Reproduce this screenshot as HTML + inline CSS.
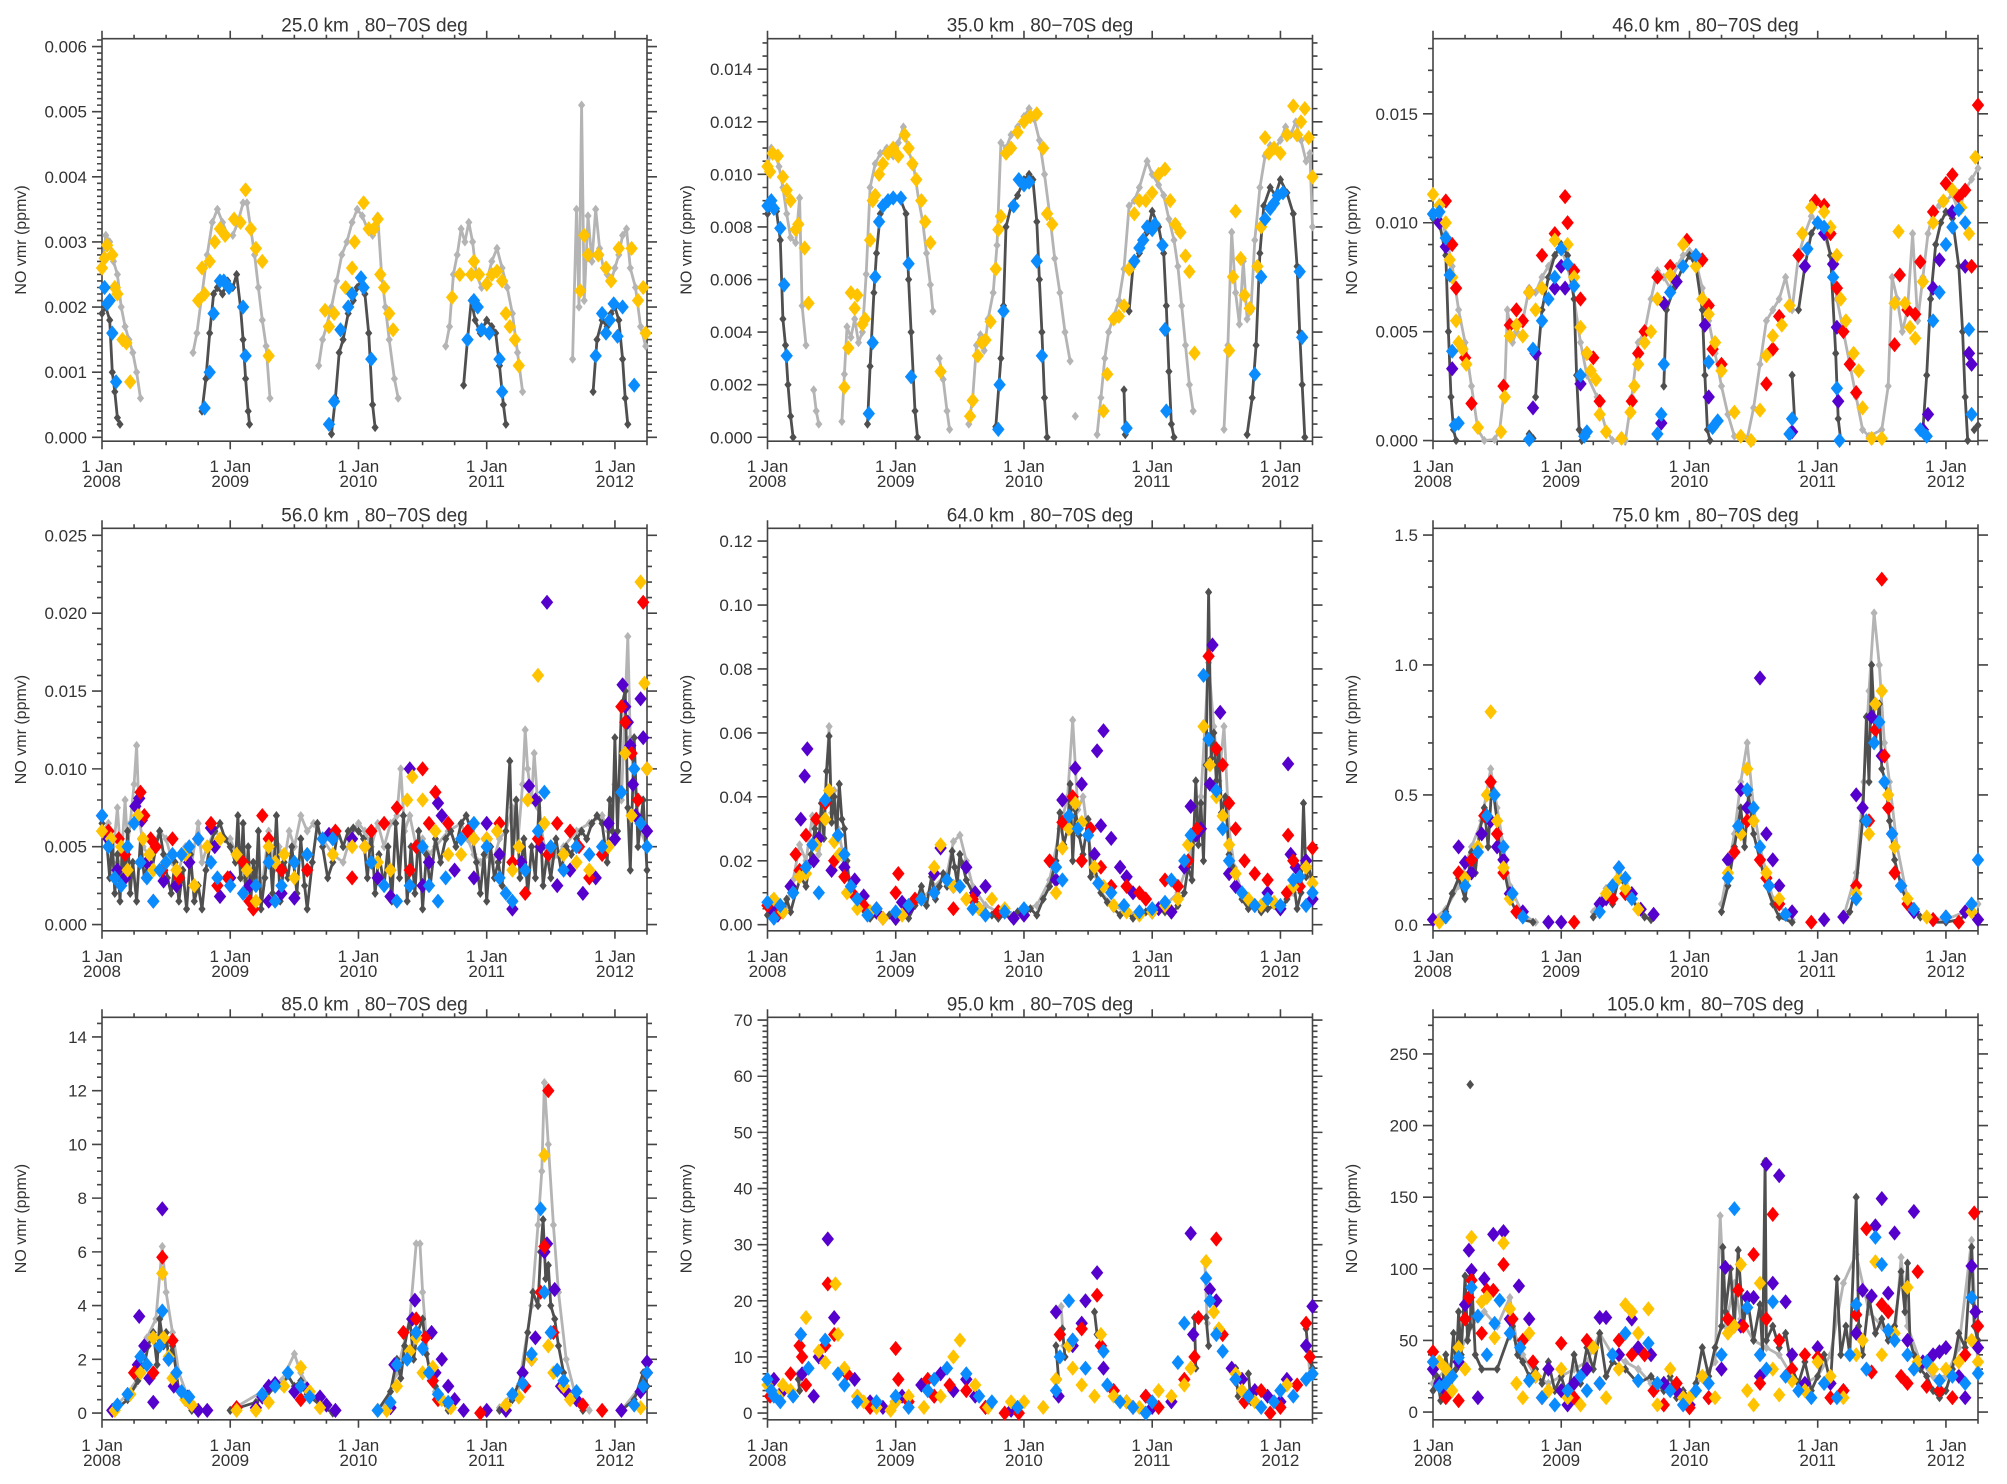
<!DOCTYPE html>
<html><head><meta charset="utf-8"><title>NO vmr 80-70S</title>
<style>
html,body{margin:0;padding:0;background:#fff;}
svg{display:block;font-family:"Liberation Sans",sans-serif;}
</style></head>
<body>
<svg id="fig" width="2007" height="1484" viewBox="0 0 2007 1484" xmlns="http://www.w3.org/2000/svg">
<rect width="2007" height="1484" fill="#fff"/>
</svg>
<script>
// ---- year tick labels ----
const yearLabels = ["2008","2009","2010","2011","2012"];

// ---- 25 km (units 0.001 ppmv) ----
const p25Light=[[0,2.6],[0.03,3.1],[0.06,3.0],[0.09,2.7],[0.12,2.5],[0.15,2.0],[0.18,1.7],[0.21,1.5],[0.24,1.3],[0.27,1.0],[0.3,0.6],null,
[0.71,1.3],[0.74,1.6],[0.78,2.2],[0.82,2.8],[0.86,3.3],[0.9,3.5],[0.94,3.3],[0.98,3.1],[1.02,3.1],[1.06,3.3],[1.1,3.6],[1.13,3.6],[1.16,3.2],[1.19,2.8],[1.22,2.3],[1.25,1.8],[1.28,1.4],[1.31,0.6],null,
[1.69,1.1],[1.72,1.5],[1.75,1.7],[1.79,2.0],[1.83,2.4],[1.87,2.8],[1.91,3.0],[1.95,3.3],[1.99,3.5],[2.03,3.4],[2.07,3.2],[2.11,3.1],[2.15,3.4],[2.18,2.5],[2.21,2.0],[2.24,1.5],[2.28,0.9],[2.31,0.6],null,
[2.68,1.4],[2.71,1.7],[2.74,2.5],[2.77,2.8],[2.8,3.2],[2.83,3.0],[2.86,3.3],[2.89,3.0],[2.92,2.5],[2.96,2.3],[3.0,2.4],[3.04,2.7],[3.08,2.9],[3.12,2.6],[3.16,2.3],[3.2,1.9],[3.24,1.3],[3.28,0.7],null,
[3.67,1.2],[3.7,3.5],[3.72,2.0],[3.74,5.1],[3.76,2.1],[3.79,3.4],[3.82,2.7],[3.85,3.5],[3.88,2.9],[3.91,2.6],[3.94,2.5],[3.97,2.4],[4.0,2.6],[4.03,2.8],[4.06,3.1],[4.09,3.2],[4.12,2.6],[4.16,2.3],[4.2,1.7],[4.24,1.4]];
const p25Dark=[[0,1.9],[0.03,2.0],[0.06,1.8],[0.08,1.0],[0.1,0.7],[0.12,0.3],[0.14,0.2],null,
[0.78,0.4],[0.81,0.9],[0.84,1.6],[0.87,2.2],[0.9,2.3],[0.94,2.2],[0.98,2.4],[1.02,2.3],[1.05,2.5],[1.08,2.0],[1.1,1.5],[1.12,0.9],[1.14,0.4],[1.15,0.2],null,
[1.79,0.05],[1.82,0.6],[1.85,1.3],[1.88,1.5],[1.92,1.9],[1.96,2.1],[1.99,2.3],[2.02,2.4],[2.05,2.2],[2.08,1.6],[2.11,0.5],[2.13,0.15],null,
[2.82,0.8],[2.85,1.5],[2.88,2.1],[2.91,1.8],[2.95,1.6],[3.0,1.8],[3.04,1.7],[3.07,1.6],[3.1,1.1],[3.13,0.5],[3.15,0.2],null,
[3.83,0.7],[3.86,1.5],[3.9,1.8],[3.94,1.7],[3.97,1.9],[4.0,2.0],[4.03,1.8],[4.06,1.2],[4.08,0.6],[4.1,0.2]];
const p25Yellow=[[0,2.6],[0.02,2.75],[0.04,2.95],[0.08,2.8],[0.1,2.3],[0.12,2.2],[0.16,1.5],[0.19,1.45],[0.22,0.85],
[0.75,2.1],[0.78,2.6],[0.8,2.2],[0.84,2.7],[0.88,3.0],[0.92,3.2],[0.96,3.1],[1.03,3.35],[1.08,3.3],[1.12,3.8],[1.16,3.2],[1.2,2.9],[1.25,2.7],[1.3,1.25],
[1.74,1.95],[1.77,1.7],[1.81,1.9],[1.9,2.3],[1.95,2.6],[1.97,3.0],[2.04,3.6],[2.08,3.2],[2.12,3.2],[2.15,3.35],[2.17,2.5],[2.2,2.3],[2.24,1.9],[2.27,1.65],
[2.73,2.15],[2.79,2.5],[2.88,2.5],[2.9,2.7],[2.94,2.5],[3.0,2.35],[3.04,2.5],[3.08,2.55],[3.12,2.4],[3.15,1.9],[3.18,1.7],[3.22,1.5],[3.25,1.1],
[3.73,2.25],[3.76,3.1],[3.79,2.8],[3.87,2.8],[3.93,2.6],[3.97,2.4],[4.03,2.9],[4.13,2.9],[4.18,2.1],[4.22,2.3],[4.24,1.6]];
const p25Blue=[[0.02,2.3],[0.04,2.05],[0.06,2.1],[0.08,1.6],[0.11,0.85],[0.8,0.45],[0.84,1.0],[0.87,1.9],[0.92,2.4],[0.95,2.4],[0.99,2.3],[1.1,2.0],[1.12,1.25],
[1.77,0.2],[1.81,0.55],[1.86,1.65],[1.92,2.0],[1.95,2.2],[2.02,2.45],[2.04,2.3],[2.1,1.2],[2.85,1.5],[2.9,2.1],[2.93,2.0],[2.96,1.65],[3.02,1.6],[3.1,1.2],[3.12,0.7],
[3.85,1.25],[3.9,1.9],[3.93,1.6],[3.96,1.8],[3.99,2.05],[4.02,1.55],[4.06,2.0],[4.15,0.8]];

// ---- 35 km (units 0.001 ppmv) ----
const p35Light=[[0,10.3],[0.03,11.0],[0.06,10.8],[0.09,10.3],[0.12,9.5],[0.15,8.5],[0.18,7.6],[0.22,7.4],[0.25,9.1],[0.27,5.0],[0.3,3.5],null,[0.36,1.8],[0.38,1.0],[0.4,0.5],null,
[0.58,0.6],[0.6,2.4],[0.62,4.2],[0.65,3.8],[0.68,4.5],[0.71,3.6],[0.74,4.0],[0.77,6.2],[0.8,9.5],[0.84,10.4],[0.88,10.8],[0.93,11.0],[0.98,10.7],[1.02,11.2],[1.06,11.8],[1.1,10.9],[1.14,10.3],[1.18,9.0],[1.21,8.2],[1.24,7.0],[1.27,5.8],[1.29,4.8],null,[1.34,3.0],[1.37,2.2],[1.4,1.0],[1.42,0.3],null,
[1.57,0.5],[1.6,1.5],[1.63,3.5],[1.66,3.9],[1.69,3.3],[1.72,4.5],[1.76,5.5],[1.79,7.3],[1.82,11.2],[1.86,11.0],[1.9,11.5],[1.95,11.8],[2.0,12.2],[2.04,12.5],[2.08,12.1],[2.12,11.3],[2.16,10.0],[2.2,8.5],[2.24,6.8],[2.28,5.5],[2.32,4.0],[2.36,2.9],null,[2.4,0.8],null,
[2.57,0.1],[2.6,1.5],[2.63,3.0],[2.66,4.0],[2.7,4.6],[2.74,5.2],[2.78,6.4],[2.82,8.8],[2.86,9.0],[2.9,9.5],[2.96,10.5],[3.0,10.0],[3.05,9.6],[3.09,9.2],[3.13,8.3],[3.17,7.5],[3.2,6.5],[3.23,5.0],[3.26,3.5],[3.29,2.0],[3.32,1.0],null,
[3.56,0.3],[3.59,3.5],[3.62,7.8],[3.65,5.5],[3.68,4.3],[3.71,6.7],[3.74,4.5],[3.77,4.8],[3.8,7.5],[3.84,9.5],[3.88,10.7],[3.92,11.1],[3.96,11.0],[4.0,11.3],[4.04,11.8],[4.08,11.5],[4.12,12.0],[4.16,11.3],[4.2,10.5],[4.23,10.8],[4.25,8.0]];
const p35Dark=[[0,8.5],[0.03,8.8],[0.07,8.6],[0.1,7.5],[0.12,4.5],[0.14,3.5],[0.16,2.0],[0.18,0.8],[0.2,0.0],null,
[0.78,0.5],[0.8,2.7],[0.83,5.5],[0.85,7.0],[0.88,8.5],[0.92,8.9],[0.98,9.2],[1.04,9.0],[1.08,8.5],[1.1,6.0],[1.12,4.0],[1.15,1.0],[1.17,0.0],null,
[1.78,0.4],[1.82,3.0],[1.84,5.0],[1.86,8.0],[1.9,8.8],[1.95,9.2],[2.0,9.8],[2.04,10.0],[2.07,9.8],[2.1,8.2],[2.12,6.0],[2.14,4.0],[2.16,1.5],[2.18,0.0],null,
[2.78,1.8],[2.79,0.1],null,[2.82,4.8],[2.85,6.5],[2.9,7.0],[2.96,7.8],[3.0,8.6],[3.05,8.0],[3.09,7.0],[3.11,5.0],[3.13,2.5],[3.15,0.5],[3.17,0.0],null,
[3.74,0.1],[3.78,1.5],[3.81,3.5],[3.84,7.0],[3.87,8.8],[3.92,9.5],[3.96,9.2],[4.0,9.8],[4.05,9.3],[4.1,8.5],[4.13,6.5],[4.15,4.0],[4.17,2.0],[4.19,0.0]];
const p35Yellow=[[0,10.3],[0.02,10.1],[0.04,10.8],[0.08,10.7],[0.12,9.9],[0.15,9.4],[0.18,9.0],[0.22,7.9],[0.24,8.1],[0.29,7.2],[0.32,5.1],
[0.6,1.9],[0.63,3.4],[0.65,5.5],[0.68,4.9],[0.7,5.4],[0.74,4.3],[0.76,4.5],[0.8,7.5],[0.82,9.0],[0.84,9.2],[0.87,10.0],[0.9,10.4],[0.94,10.8],[0.98,11.0],[1.02,10.7],[1.07,11.5],[1.1,11.0],[1.13,10.4],[1.16,9.8],[1.2,9.0],[1.23,8.2],[1.27,7.4],[1.35,2.5],
[1.58,0.8],[1.6,1.4],[1.64,3.1],[1.67,3.6],[1.7,3.7],[1.74,4.4],[1.78,6.4],[1.8,7.9],[1.82,8.4],[1.86,10.8],[1.9,11.0],[1.95,11.6],[2.0,12.0],[2.05,12.2],[2.1,12.3],[2.15,11.0],[2.18,8.5],[2.22,8.1],
[2.62,1.0],[2.65,2.4],[2.7,4.5],[2.74,4.6],[2.78,5.0],[2.82,6.4],[2.86,8.5],[2.9,9.0],[2.95,9.0],[3.0,9.3],[3.05,10.0],[3.1,10.2],[3.14,9.0],[3.18,8.1],[3.22,7.8],[3.26,6.9],[3.29,6.3],[3.33,3.2],
[3.6,3.3],[3.63,6.1],[3.65,8.6],[3.69,6.8],[3.72,5.4],[3.76,4.9],[3.82,6.5],[3.85,8.0],[3.88,11.4],[3.91,10.8],[3.95,11.0],[4.0,10.8],[4.05,11.5],[4.1,12.6],[4.13,11.5],[4.16,12.0],[4.19,12.5],[4.22,11.4],[4.25,9.9]];
const p35Blue=[[0,8.8],[0.03,9.0],[0.05,8.7],[0.1,7.95],[0.13,5.8],[0.15,3.1],[0.79,0.9],[0.82,3.6],[0.84,6.1],[0.87,8.2],[0.9,8.8],[0.94,9.0],[0.98,9.1],[1.04,9.1],[1.1,6.6],[1.12,2.3],
[1.8,0.3],[1.81,2.0],[1.84,4.8],[1.92,8.8],[1.96,9.8],[2.0,9.6],[2.04,9.7],[2.1,6.7],[2.14,3.1],[2.8,0.35],[2.86,6.7],[2.9,7.2],[2.93,7.5],[2.96,8.0],[3.0,7.9],[3.02,8.1],[3.08,7.3],[3.1,4.1],[3.11,1.0],
[3.8,2.4],[3.85,6.1],[3.88,8.3],[3.92,8.7],[3.95,8.9],[3.98,9.2],[4.02,9.3],[4.15,6.3],[4.17,3.8]];

// ---- 46 km (units 0.001 ppmv) ----
const p46Light=[[0,10.5],[0.05,10.3],[0.1,9.5],[0.15,8.0],[0.2,6.0],[0.25,4.5],[0.3,2.5],[0.35,0.5],[0.4,0.0],[0.48,0.05],[0.52,0.5],[0.56,2.5],[0.58,6.0],[0.62,4.5],[0.65,5.0],[0.7,5.5],[0.75,7.0],[0.8,6.8],[0.85,7.5],[0.9,8.0],[0.95,8.5],[1.0,8.8],[1.05,8.0],[1.1,6.5],[1.15,4.5],[1.2,3.0],[1.28,2.0],[1.35,0.5],[1.4,0.0],[1.5,0.0],[1.55,2.0],[1.6,4.5],[1.65,5.0],[1.7,6.5],[1.75,7.8],[1.8,7.5],[1.85,7.0],[1.9,8.0],[1.95,8.5],[2.0,8.7],[2.05,8.2],[2.1,7.0],[2.15,5.5],[2.2,4.0],[2.25,2.5],[2.3,1.2],[2.35,0.2],[2.45,0.1],[2.5,1.5],[2.55,3.5],[2.6,5.5],[2.65,6.0],[2.7,6.5],[2.75,7.5],[2.8,6.0],[2.85,8.5],[2.9,9.5],[2.95,10.3],[3.0,10.0],[3.05,9.5],[3.1,8.5],[3.15,6.5],[3.2,5.0],[3.25,3.5],[3.3,2.0],[3.35,0.5],[3.4,0.2],[3.5,0.5],[3.55,2.5],[3.58,7.5],[3.62,6.5],[3.66,5.0],[3.7,6.0],[3.74,9.5],[3.78,5.5],[3.82,7.5],[3.86,9.5],[3.9,10.5],[3.95,10.8],[4.0,11.0],[4.05,11.3],[4.1,10.5],[4.15,11.5],[4.2,12.0],[4.25,12.5]];
const p46Dark=[[0,10.2],[0.05,10.0],[0.1,8.5],[0.12,5.0],[0.14,2.0],[0.16,0.5],[0.18,0.0],null,[0.75,0.3],[0.78,0.1],null,
[0.8,2.0],[0.82,4.0],[0.85,6.0],[0.9,7.5],[0.95,8.5],[1.0,9.0],[1.05,8.5],[1.1,6.5],[1.12,3.0],[1.14,0.5],[1.16,0.0],null,
[1.8,2.5],[1.82,6.0],[1.88,7.0],[1.95,8.0],[2.0,8.5],[2.05,8.0],[2.1,6.0],[2.12,3.0],[2.14,0.5],[2.16,0.0],null,
[2.8,3.0],[2.82,1.0],null,[2.85,6.0],[2.9,8.0],[2.95,9.5],[3.0,10.0],[3.05,9.8],[3.1,8.5],[3.14,4.0],[3.16,1.0],[3.18,0.0],null,
[3.82,0.5],[3.85,3.0],[3.88,6.5],[3.92,9.0],[3.96,10.0],[4.0,10.5],[4.05,10.2],[4.1,8.0],[4.13,5.0],[4.15,2.0],[4.17,0.0],null,[4.22,0.5],[4.25,0.7]];
const p46Red=[[0.1,11.0],[0.15,9.0],[0.18,7.0],[0.25,3.8],[0.3,1.7],[0.55,2.5],[0.6,5.3],[0.65,6.0],[0.7,5.5],[0.75,6.8],[0.85,8.5],[0.95,9.5],[1.03,11.2],[1.05,10.0],[1.1,7.8],[1.15,6.5],[1.2,4.0],[1.25,3.8],[1.3,1.8],[1.55,1.8],[1.6,4.0],[1.65,5.0],[1.75,7.5],[1.85,8.0],[1.98,9.2],[2.1,8.3],[2.15,6.2],[2.18,4.2],[2.25,3.5],[2.6,2.6],[2.65,4.2],[2.7,5.7],[2.85,8.5],[2.98,11.0],[3.05,10.8],[3.1,9.5],[3.15,7.0],[3.2,5.0],[3.25,3.5],[3.3,2.2],[3.6,4.4],[3.64,7.6],[3.7,6.0],[3.76,5.8],[3.8,8.2],[3.9,10.5],[4.0,11.8],[4.05,12.2],[4.1,11.2],[4.15,11.5],[4.2,8.0],[4.25,15.4]];
const p46Yellow=[[0,11.3],[0.05,10.8],[0.1,10.0],[0.13,8.3],[0.15,7.5],[0.18,5.5],[0.2,4.5],[0.23,4.2],[0.26,3.5],[0.35,0.6],[0.53,0.4],[0.56,2.0],[0.6,4.8],[0.65,5.3],[0.7,4.8],[0.75,6.8],[0.8,6.0],[0.85,7.0],[0.95,9.2],[1.05,9.0],[1.1,7.5],[1.15,5.2],[1.2,4.0],[1.23,3.2],[1.27,2.8],[1.3,1.2],[1.35,0.4],[1.47,0.1],[1.54,1.3],[1.57,2.5],[1.6,3.5],[1.65,4.5],[1.7,5.0],[1.75,6.5],[1.85,7.6],[1.95,9.0],[2.05,8.0],[2.1,6.5],[2.15,5.8],[2.2,4.5],[2.25,3.2],[2.35,1.3],[2.4,0.2],[2.48,0.0],[2.55,1.4],[2.6,3.9],[2.65,4.8],[2.72,5.3],[2.78,6.2],[2.88,9.5],[2.95,10.7],[3.05,10.5],[3.1,9.8],[3.15,8.5],[3.18,6.5],[3.22,5.5],[3.28,4.0],[3.32,3.2],[3.35,1.5],[3.42,0.1],[3.5,0.1],[3.6,6.3],[3.63,9.6],[3.68,6.3],[3.72,5.2],[3.76,4.7],[3.82,7.3],[3.9,10.0],[3.98,11.0],[4.05,11.5],[4.12,10.7],[4.18,9.5],[4.23,13.0]];
const p46Blue=[[0,10.4],[0.05,10.5],[0.1,9.3],[0.13,7.6],[0.15,4.1],[0.17,0.7],[0.2,0.8],[0.75,0.05],[0.78,4.2],[0.85,5.5],[0.9,6.5],[0.95,7.5],[1.0,8.8],[1.05,8.1],[1.1,7.1],[1.15,3.0],[1.18,0.2],[1.2,0.4],[1.75,0.3],[1.78,1.2],[1.8,3.5],[1.85,6.8],[1.95,8.0],[2.05,8.5],[2.15,3.6],[2.18,0.6],[2.22,0.9],[2.78,0.3],[2.8,1.0],[2.92,8.8],[3.0,10.0],[3.05,9.8],[3.12,7.5],[3.15,2.4],[3.17,0.0],[3.8,0.5],[3.85,0.2],[3.9,5.5],[3.95,6.8],[4.0,9.0],[4.05,9.8],[4.1,10.6],[4.15,10.0],[4.18,5.1],[4.2,1.2]];
const p46Purple=[[0.05,10.0],[0.1,8.9],[0.15,3.3],[0.78,1.5],[0.8,4.0],[0.95,7.0],[1.0,8.0],[1.03,7.0],[1.15,2.6],[1.78,0.8],[1.8,6.3],[1.9,7.3],[2.12,5.3],[2.15,2.0],[2.8,0.4],[2.9,8.0],[3.05,9.5],[3.12,8.1],[3.15,5.2],[3.16,1.8],[3.82,0.5],[3.86,1.2],[3.9,7.0],[3.95,8.3],[4.05,10.5],[4.15,8.0],[4.18,4.0],[4.2,3.5]];

// ---- 56 km (units 0.001 ppmv) ----
const p56Light=[[0,6.0],[0.05,6.5],[0.08,4.0],[0.12,7.5],[0.15,4.0],[0.18,8.0],[0.2,5.0],[0.22,6.5],[0.25,9.0],[0.27,11.5],[0.29,7.0],[0.32,5.0],[0.36,4.5],[0.4,5.0],[0.45,6.0],[0.5,5.5],[0.55,4.0],[0.6,3.5],[0.65,5.0],[0.7,4.0],[0.75,6.5],[0.78,4.0],[0.82,5.0],[0.88,6.0],[0.94,5.5],[1.0,5.5],[1.05,4.5],[1.1,3.0],[1.15,2.5],[1.2,3.0],[1.25,2.5],[1.3,6.0],[1.34,3.5],[1.38,5.0],[1.42,4.0],[1.46,6.0],[1.5,5.0],[1.55,7.0],[1.6,6.0],[1.65,6.5],[1.72,5.5],[1.8,4.5],[1.88,4.0],[1.95,6.0],[2.0,6.5],[2.05,6.0],[2.1,5.0],[2.15,6.5],[2.2,5.0],[2.25,6.5],[2.3,7.0],[2.33,10.0],[2.36,6.0],[2.4,7.0],[2.45,5.0],[2.5,5.5],[2.55,4.5],[2.6,5.0],[2.7,6.0],[2.8,6.5],[2.85,5.5],[2.9,4.5],[2.95,4.0],[3.0,4.5],[3.05,4.0],[3.1,5.5],[3.15,6.0],[3.2,7.5],[3.24,5.0],[3.28,9.0],[3.3,12.5],[3.32,10.0],[3.35,8.0],[3.37,11.0],[3.4,7.5],[3.45,5.0],[3.5,4.0],[3.55,4.5],[3.6,5.0],[3.7,6.0],[3.8,6.5],[3.9,7.0],[3.95,6.0],[4.0,9.0],[4.05,8.0],[4.1,18.5],[4.12,12.0],[4.15,9.0],[4.2,6.0],[4.25,5.0]];
const p56Dark=[[0,6.5],[0.04,5.0],[0.06,3.0],[0.08,5.5],[0.1,2.0],[0.12,4.5],[0.14,1.5],[0.16,5.0],[0.18,3.0],[0.2,6.0],[0.22,2.0],[0.24,4.0],[0.27,1.5],[0.3,5.5],[0.33,3.0],[0.36,4.0],[0.39,3.5],[0.42,5.0],[0.45,6.0],[0.48,4.5],[0.51,3.0],[0.54,2.0],[0.57,4.0],[0.6,1.5],[0.63,3.5],[0.66,1.0],[0.69,4.5],[0.72,1.5],[0.75,2.5],[0.78,1.0],[0.81,3.5],[0.84,5.0],[0.88,6.0],[0.92,6.5],[0.96,5.5],[1.0,5.0],[1.04,4.0],[1.06,7.0],[1.08,3.0],[1.1,6.5],[1.12,2.0],[1.14,5.0],[1.16,1.5],[1.18,4.0],[1.2,2.5],[1.22,6.0],[1.24,1.0],[1.27,3.0],[1.3,5.5],[1.33,2.0],[1.36,7.0],[1.39,1.5],[1.42,4.0],[1.45,3.0],[1.48,5.0],[1.52,2.0],[1.55,5.5],[1.58,2.5],[1.6,1.0],[1.64,4.0],[1.68,6.5],[1.72,5.0],[1.76,3.0],[1.8,4.0],[1.84,6.0],[1.88,5.0],[1.92,6.0],[1.96,6.2],[2.0,6.0],[2.04,5.5],[2.07,3.0],[2.1,6.0],[2.13,2.0],[2.16,4.5],[2.2,2.5],[2.23,5.0],[2.26,1.5],[2.29,6.5],[2.32,3.0],[2.35,7.0],[2.38,1.5],[2.41,5.0],[2.44,2.0],[2.47,6.0],[2.5,1.0],[2.53,4.5],[2.56,2.5],[2.6,5.5],[2.64,4.0],[2.68,5.5],[2.72,6.0],[2.76,5.0],[2.8,6.5],[2.84,7.0],[2.88,6.0],[2.92,4.0],[2.95,2.0],[2.98,4.5],[3.0,1.5],[3.03,5.0],[3.06,3.0],[3.09,4.0],[3.12,2.5],[3.15,6.0],[3.18,10.5],[3.2,4.0],[3.23,8.0],[3.26,3.0],[3.29,5.5],[3.32,2.0],[3.35,5.0],[3.38,3.0],[3.41,8.0],[3.44,2.5],[3.47,4.5],[3.5,3.0],[3.54,5.5],[3.58,3.5],[3.62,5.0],[3.66,4.5],[3.7,5.5],[3.74,6.0],[3.78,5.5],[3.82,6.5],[3.86,7.0],[3.9,6.5],[3.94,4.0],[3.96,8.0],[3.98,6.0],[4.0,12.0],[4.02,6.0],[4.05,14.0],[4.08,15.0],[4.1,7.5],[4.12,3.5],[4.15,12.0],[4.18,5.0],[4.22,8.0],[4.25,3.5]];
const p56Purple=[[0,7.0],[0.05,5.5],[0.12,3.5],[0.18,3.0],[0.26,7.6],[0.29,8.1],[0.31,6.7],[0.35,4.0],[0.4,1.5],[0.48,2.8],[0.58,2.5],[0.68,4.0],[0.85,6.2],[0.88,5.0],[0.92,1.8],[1.0,3.0],[1.15,2.5],[1.3,1.5],[1.4,2.0],[1.5,1.7],[1.77,5.8],[1.95,5.5],[2.05,5.0],[2.15,3.0],[2.25,1.8],[2.4,10.0],[2.5,2.5],[2.55,4.0],[2.62,7.8],[2.65,7.0],[2.75,3.5],[2.9,3.0],[3.0,6.5],[3.1,4.5],[3.2,1.0],[3.27,4.0],[3.33,8.9],[3.38,8.0],[3.42,5.0],[3.47,20.7],[3.55,2.5],[3.65,3.5],[3.75,2.0],[3.85,3.0],[3.95,6.5],[4.0,5.5],[4.06,15.4],[4.08,14.0],[4.1,13.0],[4.12,11.5],[4.14,9.0],[4.16,7.0],[4.2,14.5],[4.22,12.0],[4.25,6.0]];
const p56Red=[[0.05,6.0],[0.13,5.5],[0.18,4.5],[0.3,8.5],[0.33,7.0],[0.38,5.5],[0.42,5.0],[0.47,3.5],[0.55,5.5],[0.6,3.0],[0.75,5.5],[0.85,6.5],[0.9,2.5],[0.98,3.0],[1.1,4.0],[1.15,1.5],[1.18,1.0],[1.25,7.0],[1.3,5.5],[1.4,3.5],[1.6,3.5],[1.82,6.0],[1.95,3.0],[2.1,6.0],[2.2,6.5],[2.3,7.5],[2.4,3.5],[2.45,5.0],[2.5,10.0],[2.55,6.5],[2.6,8.5],[2.7,6.5],[2.85,6.0],[2.9,5.5],[3.0,5.5],[3.1,6.5],[3.2,4.0],[3.3,2.0],[3.4,5.5],[3.48,4.5],[3.55,6.5],[3.65,6.0],[3.72,5.0],[3.8,3.0],[3.9,4.5],[4.05,14.0],[4.08,13.0],[4.13,11.0],[4.18,8.0],[4.22,20.7],[4.25,10.0]];
const p56Yellow=[[0,6.0],[0.07,5.5],[0.15,5.0],[0.2,3.5],[0.28,7.0],[0.32,5.5],[0.37,4.5],[0.4,3.5],[0.5,4.0],[0.58,3.5],[0.65,4.5],[0.72,2.5],[0.82,5.0],[0.92,5.5],[1.05,4.5],[1.13,3.5],[1.2,1.5],[1.3,5.0],[1.35,4.0],[1.42,4.5],[1.5,3.0],[1.6,4.5],[1.8,4.5],[1.95,5.0],[2.05,5.0],[2.15,4.0],[2.25,3.5],[2.38,8.0],[2.42,9.5],[2.5,8.0],[2.6,6.0],[2.7,4.5],[2.8,4.5],[2.9,5.5],[3.0,5.5],[3.08,6.0],[3.2,3.5],[3.25,5.0],[3.32,8.0],[3.4,16.0],[3.45,6.5],[3.5,5.0],[3.6,4.5],[3.7,4.0],[3.8,3.5],[3.95,5.0],[4.08,11.0],[4.13,7.0],[4.2,22.0],[4.23,15.5],[4.25,10.0]];
const p56Blue=[[0,7.0],[0.05,5.0],[0.1,3.0],[0.15,2.5],[0.2,5.0],[0.25,6.5],[0.3,4.0],[0.35,3.0],[0.4,1.5],[0.45,3.5],[0.5,4.0],[0.55,4.5],[0.62,4.5],[0.68,5.0],[0.75,5.5],[0.85,4.0],[0.9,3.0],[1.0,2.5],[1.1,2.0],[1.2,2.5],[1.3,4.0],[1.35,1.5],[1.4,2.5],[1.5,4.0],[1.6,4.5],[1.72,5.5],[1.8,5.5],[2.1,4.0],[2.2,2.5],[2.3,1.5],[2.4,2.5],[2.5,5.0],[2.55,2.5],[2.62,1.5],[2.68,3.0],[2.8,5.5],[2.9,6.5],[3.0,5.0],[3.1,3.0],[3.15,2.0],[3.2,1.5],[3.3,3.5],[3.4,6.0],[3.45,8.5],[3.5,5.0],[3.6,3.5],[3.7,5.0],[3.8,4.5],[3.9,5.0],[4.05,8.5],[4.15,10.0],[4.2,6.5],[4.25,5.0]];

// ---- 64 km (units 0.001 ppmv) ----
const p64Light=[[0,5],[0.05,4],[0.1,7],[0.15,6],[0.2,14],[0.25,25],[0.3,20],[0.35,34],[0.4,22],[0.45,40],[0.48,62],[0.5,35],[0.52,42],[0.55,30],[0.6,20],[0.65,12],[0.7,8],[0.8,5],[0.9,3],[1.0,2],[1.1,4],[1.2,8],[1.3,12],[1.4,16],[1.45,26],[1.5,28],[1.55,20],[1.6,12],[1.7,6],[1.8,4],[1.9,3],[2.0,5],[2.1,6],[2.2,14],[2.28,30],[2.34,40],[2.38,64],[2.42,36],[2.46,40],[2.5,28],[2.55,16],[2.6,10],[2.7,6],[2.8,4],[2.9,3],[3.0,5],[3.1,6],[3.2,10],[3.3,22],[3.38,40],[3.44,82],[3.48,62],[3.52,45],[3.56,62],[3.6,30],[3.64,18],[3.7,10],[3.8,6],[3.9,5],[4.0,6],[4.1,10],[4.18,20],[4.25,12]];
const p64Dark=[[0,3],[0.03,8],[0.06,2],[0.09,6],[0.12,3],[0.15,8],[0.18,4],[0.22,10],[0.26,15],[0.3,12],[0.34,22],[0.37,30],[0.4,26],[0.42,38],[0.44,27],[0.46,48],[0.48,59],[0.5,32],[0.52,40],[0.54,28],[0.56,44],[0.58,33],[0.6,30],[0.62,20],[0.64,12],[0.68,8],[0.72,6],[0.76,4],[0.8,2],[0.85,3],[0.9,2],[0.95,3],[1.0,1],[1.05,3],[1.1,2],[1.15,6],[1.2,12],[1.24,6],[1.28,15],[1.31,8],[1.34,12],[1.37,16],[1.4,12],[1.44,23],[1.46,18],[1.48,13],[1.5,22],[1.52,19],[1.55,14],[1.6,10],[1.65,6],[1.7,4],[1.75,3],[1.8,2],[1.85,3],[1.9,2],[1.95,4],[2.0,3],[2.05,5],[2.1,3],[2.15,8],[2.2,12],[2.25,20],[2.28,35],[2.31,25],[2.34,30],[2.36,44],[2.38,20],[2.4,36],[2.43,28],[2.46,22],[2.5,33],[2.52,15],[2.55,18],[2.6,10],[2.65,7],[2.7,5],[2.75,3],[2.8,4],[2.85,2],[2.9,3],[2.95,4],[3.0,3],[3.05,5],[3.1,4],[3.15,3],[3.2,6],[3.25,10],[3.28,18],[3.31,14],[3.34,45],[3.36,25],[3.38,38],[3.4,20],[3.42,50],[3.44,104],[3.46,52],[3.48,60],[3.5,45],[3.52,55],[3.54,35],[3.57,40],[3.6,22],[3.63,18],[3.66,12],[3.7,8],[3.75,5],[3.8,6],[3.85,4],[3.9,5],[3.95,6],[4.0,4],[4.05,8],[4.1,14],[4.13,5],[4.16,10],[4.18,38],[4.2,15],[4.22,18],[4.25,13]];
const p64Purple=[[0.03,5],[0.08,3],[0.18,12],[0.26,33],[0.29,46.5],[0.31,55],[0.36,20],[0.4,27],[0.5,17],[0.6,18],[0.68,14],[0.75,9],[0.85,4],[0.9,2],[1.0,2],[1.05,7],[1.1,5],[1.3,16],[1.35,24],[1.45,12],[1.55,18],[1.62,10],[1.7,12],[1.8,4],[1.92,2],[2.0,3],[2.25,14],[2.3,39],[2.4,49],[2.45,44],[2.55,22],[2.57,54.4],[2.6,31],[2.62,60.7],[2.68,27],[2.75,18],[2.8,15],[2.85,10],[2.95,8],[3.05,5],[3.15,4],[3.25,18],[3.3,37],[3.34,28],[3.38,30],[3.45,44],[3.47,87.5],[3.5,42],[3.53,66.4],[3.6,16],[3.65,12],[3.8,6],[3.9,10],[4.0,5],[4.06,50.3],[4.08,22],[4.12,18],[4.2,20],[4.25,8]];
const p64Red=[[0,6],[0.1,4],[0.22,22],[0.25,17],[0.3,28],[0.38,33],[0.45,38],[0.52,20],[0.6,15],[0.66,10],[0.75,6],[0.85,5],[1.0,10],[1.02,16],[1.15,8],[1.3,10],[1.45,5],[1.6,8],[1.8,4],[2.2,20],[2.3,32],[2.38,40],[2.45,20],[2.52,30],[2.6,18],[2.68,12],[2.8,12],[2.9,10],[2.95,8],[3.1,14],[3.2,12],[3.28,20],[3.35,30],[3.44,84],[3.5,55],[3.55,50],[3.6,38],[3.65,30],[3.72,20],[3.8,16],[3.9,14],[4.05,10],[4.06,28],[4.1,20],[4.15,12],[4.25,24]];
const p64Yellow=[[0.05,8],[0.12,4],[0.25,15],[0.3,16],[0.38,25],[0.45,33],[0.48,42],[0.52,26],[0.56,22],[0.62,10],[0.7,5],[0.8,4],[0.9,2],[1.05,3],[1.2,8],[1.3,18],[1.35,25],[1.45,12],[1.55,8],[1.65,5],[1.75,8],[1.85,5],[2.25,10],[2.3,24],[2.35,30],[2.4,38],[2.45,32],[2.55,18],[2.62,12],[2.7,6],[2.8,4],[2.9,3],[3.0,4],[3.1,6],[3.2,8],[3.28,25],[3.4,62],[3.45,50],[3.5,40],[3.55,34],[3.6,25],[3.65,16],[3.75,8],[3.85,6],[3.95,7],[4.1,12],[4.2,18],[4.25,13]];
const p64Blue=[[0,7],[0.05,2],[0.1,6],[0.2,10],[0.3,18],[0.35,25],[0.4,10],[0.45,39],[0.55,28],[0.6,22],[0.65,12],[0.7,8],[0.78,3],[0.85,5],[1.0,4],[1.1,6],[1.2,8],[1.3,10],[1.4,14],[1.5,12],[1.6,5],[1.7,3],[1.85,4],[2.0,5],[2.25,18],[2.3,14],[2.35,34],[2.42,30],[2.5,28],[2.58,13],[2.68,10],[2.78,6],[2.9,4],[3.0,5],[3.1,7],[3.15,14],[3.25,20],[3.3,28],[3.4,78],[3.44,58],[3.5,42],[3.55,30],[3.6,20],[3.7,10],[3.8,6],[3.9,8],[4.0,6],[4.1,14],[4.15,15],[4.2,6],[4.25,10]];

// ---- 75 km (units 0.01 ppmv) ----
const p75Light=[[0,2],[0.1,6],[0.2,15],[0.3,30],[0.38,40],[0.45,60],[0.5,45],[0.55,30],[0.6,15],[0.7,4],[0.8,1],null,[1.25,5],[1.35,14],[1.45,20],[1.5,16],[1.6,6],[1.7,2],null,[2.25,8],[2.35,35],[2.4,55],[2.45,70],[2.5,45],[2.55,30],[2.65,10],[2.8,2],null,[3.2,3],[3.3,20],[3.36,55],[3.4,90],[3.44,120],[3.48,100],[3.52,70],[3.56,55],[3.62,30],[3.7,10],[3.8,3],[4.0,2],[4.15,5],[4.25,8]];
const p75Dark=[[0,1],[0.05,2],[0.1,5],[0.15,12],[0.2,18],[0.25,10],[0.3,28],[0.33,20],[0.36,35],[0.4,45],[0.43,30],[0.46,55],[0.5,40],[0.53,25],[0.56,20],[0.6,10],[0.65,5],[0.7,2],[0.78,1],null,[1.25,3],[1.3,8],[1.35,12],[1.4,8],[1.45,18],[1.5,15],[1.55,10],[1.6,6],[1.65,3],[1.7,2],null,[2.25,5],[2.3,15],[2.35,30],[2.4,45],[2.43,30],[2.46,50],[2.5,35],[2.55,25],[2.6,15],[2.65,8],[2.7,3],[2.8,1],null,[3.2,2],[3.25,5],[3.3,15],[3.35,40],[3.38,80],[3.4,55],[3.42,100],[3.45,70],[3.48,85],[3.5,60],[3.53,55],[3.56,40],[3.6,25],[3.65,15],[3.7,8],[3.8,3],[3.9,1],[4.0,1],[4.1,2],[4.2,5],[4.25,3]];
const p75Purple=[[0,2],[0.2,30],[0.25,24],[0.3,20],[0.38,35],[0.45,40],[0.5,30],[0.55,25],[0.6,12],[0.7,5],[0.9,1],[1.0,1],[1.3,8],[1.35,10],[1.45,22],[1.55,12],[1.62,6],[1.72,4],[2.3,25],[2.4,52],[2.45,45],[2.55,95],[2.6,35],[2.65,25],[2.7,15],[2.8,5],[3.05,2],[3.2,3],[3.3,50],[3.35,45],[3.42,80],[3.5,65],[3.58,35],[3.65,15],[3.75,5],[3.9,2],[4.0,3],[4.15,5],[4.25,2]];
const p75Red=[[0.2,20],[0.3,25],[0.4,42],[0.45,55],[0.5,35],[0.55,20],[0.65,5],[1.1,1],[1.4,10],[1.5,12],[2.35,28],[2.45,40],[2.55,25],[2.6,18],[2.7,8],[2.95,1],[3.3,15],[3.4,40],[3.45,75],[3.5,133],[3.52,65],[3.55,45],[3.6,20],[3.7,8],[3.9,2],[4.1,1]];
const p75Yellow=[[0.05,1],[0.25,18],[0.35,30],[0.42,50],[0.45,82],[0.5,40],[0.55,22],[0.6,10],[1.35,12],[1.45,18],[1.5,14],[1.6,6],[2.3,20],[2.4,35],[2.45,60],[2.5,40],[2.6,20],[2.7,10],[3.3,12],[3.4,35],[3.45,85],[3.5,90],[3.55,50],[3.6,30],[3.7,10],[3.85,3],[4.2,5]];
const p75Blue=[[0.1,3],[0.25,15],[0.35,28],[0.42,42],[0.48,50],[0.55,30],[0.62,12],[0.7,3],[1.3,5],[1.4,15],[1.45,22],[1.5,18],[1.55,10],[2.3,18],[2.38,38],[2.45,52],[2.5,45],[2.55,30],[2.62,15],[2.75,4],[3.3,10],[3.38,40],[3.44,70],[3.48,78],[3.52,55],[3.58,35],[3.65,15],[3.75,6],[4.0,3],[4.2,8],[4.25,25]];

// ---- 85 km (ppmv) ----
const p85Light=[[0.1,0.2],[0.25,1.0],[0.35,2.8],[0.42,3.5],[0.47,6.2],[0.5,4.5],[0.55,3.0],[0.6,1.5],[0.7,0.2],null,[1.0,0.1],[1.25,0.8],[1.4,1.2],[1.5,2.2],[1.55,1.5],[1.65,0.6],[1.8,0.1],null,[2.2,0.3],[2.3,1.5],[2.4,3.5],[2.45,6.3],[2.48,6.3],[2.5,4.5],[2.55,1.5],[2.6,0.8],[2.7,0.2],null,[3.1,0.2],[3.25,1.0],[3.35,4.0],[3.4,7.0],[3.43,9.0],[3.45,12.3],[3.48,10.0],[3.52,7.0],[3.56,4.5],[3.62,2.0],[3.7,0.5],[3.8,0.1],null,[4.05,0.1],[4.2,1.0],[4.25,1.5]];
const p85Dark=[[0.1,0.1],[0.2,0.5],[0.28,1.2],[0.33,1.8],[0.36,2.5],[0.4,3.0],[0.43,1.8],[0.45,3.5],[0.48,2.5],[0.5,3.0],[0.52,2.0],[0.55,2.5],[0.58,1.5],[0.6,0.8],[0.65,0.4],[0.7,0.1],null,[1.0,0.1],[1.2,0.4],[1.3,0.8],[1.4,1.0],[1.45,1.4],[1.5,1.0],[1.55,1.2],[1.6,0.7],[1.7,0.3],[1.8,0.0],null,[2.15,0.1],[2.25,0.8],[2.3,2.0],[2.33,1.3],[2.36,2.5],[2.4,3.5],[2.43,2.0],[2.46,3.0],[2.5,3.5],[2.53,2.2],[2.56,1.5],[2.6,1.0],[2.65,0.5],[2.7,0.1],null,[3.1,0.1],[3.2,0.5],[3.28,1.5],[3.32,3.0],[3.36,4.5],[3.4,4.0],[3.42,6.0],[3.44,7.2],[3.46,5.0],[3.48,5.5],[3.5,4.0],[3.53,3.5],[3.56,2.5],[3.6,1.5],[3.65,0.6],[3.75,0.1],null,[4.05,0.1],[4.15,0.5],[4.22,1.5],[4.25,1.0]];
const p85Purple=[[0.08,0.1],[0.28,1.8],[0.29,3.6],[0.33,2.5],[0.37,1.3],[0.4,0.4],[0.47,7.6],[0.52,2.0],[0.56,1.0],[0.67,0.6],[0.75,0.1],[0.82,0.1],[1.05,0.2],[1.2,0.2],[1.25,0.6],[1.3,1.0],[1.35,1.1],[1.5,0.8],[1.6,0.9],[1.7,0.6],[1.75,0.3],[1.82,0.1],[2.25,0.2],[2.28,1.8],[2.42,3.5],[2.44,4.2],[2.57,3.0],[2.6,1.5],[2.65,2.0],[2.7,1.0],[2.75,0.5],[2.82,0.1],[3.0,0.1],[3.15,0.1],[3.28,1.5],[3.35,2.0],[3.38,2.8],[3.45,6.0],[3.47,6.3],[3.53,4.6],[3.58,1.0],[3.62,0.8],[3.7,0.5],[4.05,0.1],[4.2,0.8],[4.25,1.9]];
const p85Red=[[0.25,1.5],[0.4,1.5],[0.47,5.8],[0.55,2.7],[0.68,0.4],[1.05,0.2],[1.55,0.5],[2.35,3.0],[2.45,3.5],[2.52,2.8],[2.58,1.2],[2.62,0.5],[2.95,0.0],[3.3,1.0],[3.42,4.5],[3.45,6.2],[3.48,12.0],[3.52,3.0],[3.6,1.0],[3.75,0.3],[3.9,0.1],[4.25,1.5]];
const p85Yellow=[[0.1,0.1],[0.22,0.7],[0.3,1.5],[0.4,2.8],[0.47,5.2],[0.48,2.8],[0.52,2.1],[0.55,1.3],[0.65,0.5],[0.7,0.3],[1.05,0.1],[1.2,0.1],[1.3,0.4],[1.42,1.0],[1.55,1.7],[1.62,0.8],[1.7,0.2],[2.15,0.1],[2.22,0.1],[2.3,1.0],[2.4,2.3],[2.45,2.8],[2.5,1.5],[2.58,1.7],[2.65,0.5],[2.72,0.2],[3.15,0.3],[3.25,0.6],[3.35,2.0],[3.45,9.6],[3.48,2.5],[3.52,1.5],[3.6,1.0],[3.65,0.5],[4.2,0.2]];
const p85Blue=[[0.12,0.3],[0.2,0.7],[0.3,2.1],[0.35,1.8],[0.45,2.5],[0.47,3.8],[0.52,2.0],[0.58,1.5],[0.62,0.8],[0.68,0.6],[1.25,0.7],[1.35,1.0],[1.45,1.5],[1.55,1.0],[1.62,0.6],[2.15,0.1],[2.25,0.4],[2.3,1.8],[2.38,2.0],[2.45,3.0],[2.5,2.4],[2.55,1.5],[2.62,0.7],[2.7,0.4],[3.2,0.7],[3.28,1.1],[3.35,2.2],[3.42,7.6],[3.45,4.5],[3.5,3.0],[3.55,1.6],[3.6,1.2],[3.7,0.8],[4.15,0.3],[4.22,1.0],[4.25,1.5]];

// ---- 95 km (ppmv) ----
const p95Light=[[0.24,7],[0.26,5],null,[2.29,19],[2.31,12],null,[3.41,27],[3.43,16],null,[4.21,12],[4.23,7]];
const p95Dark=[[0.24,6],[0.25,4],null,[2.25,12],[2.27,6],null,[2.3,15],[2.32,10],null,[2.55,18],[2.57,14],null,[3.33,17],[3.34,8],null,[3.42,17],[3.44,12],null,[3.65,8],[3.67,3],null,[3.75,7],[3.77,2],null,[4.2,15],[4.22,10],[4.25,8]];
const p95Purple=[[0.05,6],[0.12,4],[0.26,14],[0.27,7],[0.36,3],[0.4,10],[0.47,31],[0.52,17],[0.68,6],[0.8,2],[0.9,1],[1.0,2],[1.05,3],[1.2,5],[1.3,3],[1.35,7],[1.45,4],[1.55,6],[1.62,3],[1.7,1],[1.9,0.5],[2.25,18],[2.27,3],[2.38,12],[2.45,16],[2.48,20],[2.57,25],[2.6,12],[2.62,8],[2.7,4],[2.8,2],[2.95,3],[3.0,1],[3.15,2],[3.3,32],[3.32,14],[3.45,22],[3.5,20],[3.62,8],[3.7,6],[3.8,4],[3.9,3],[4.0,2],[4.05,6],[4.2,12],[4.25,19]];
const p95Red=[[0.02,3],[0.18,7],[0.25,12],[0.27,10],[0.3,5],[0.45,12],[0.47,23],[0.52,14],[0.62,7],[0.7,3],[0.8,1],[1.0,11.5],[1.02,6],[1.1,2],[1.25,6],[1.3,3],[1.42,5],[1.55,4],[1.7,1],[1.85,0],[1.96,0],[2.28,14],[2.38,13],[2.45,15],[2.57,21],[2.6,12],[2.7,4],[2.85,1],[2.95,3],[3.05,1],[3.25,6],[3.33,10],[3.36,17],[3.5,31],[3.55,14],[3.65,6],[3.72,2],[3.85,4],[3.92,0],[4.0,1],[4.13,5],[4.2,16],[4.23,10]];
const p95Yellow=[[0,5],[0.08,3],[0.12,5],[0.18,4],[0.3,17],[0.4,11],[0.45,9],[0.53,23],[0.55,14],[0.6,8],[0.7,3],[0.75,2],[0.85,1],[0.96,0.5],[1.0,2],[1.1,3],[1.22,1],[1.35,3],[1.45,10],[1.5,13],[1.62,5],[1.72,1],[1.9,2],[2.0,2],[2.15,1],[2.25,6],[2.35,12],[2.38,8],[2.45,5],[2.55,3],[2.6,14],[2.7,3],[2.8,2],[2.9,1],[3.05,4],[3.15,3],[3.25,5],[3.3,8],[3.42,27],[3.48,18],[3.52,15],[3.65,7],[3.7,4],[3.8,2],[4.05,5],[4.25,7]];
const p95Blue=[[0,6],[0.03,4],[0.05,3],[0.1,2],[0.2,3],[0.26,14],[0.32,8],[0.45,13],[0.55,7],[0.6,5],[0.7,2],[0.85,2],[1.0,3],[1.1,1],[1.25,4],[1.3,6],[1.4,8],[1.55,7],[1.65,3],[1.75,2],[1.95,1],[2.25,4],[2.28,10],[2.35,20],[2.38,13],[2.48,8],[2.62,11],[2.65,5],[2.75,2],[2.85,1],[2.95,0],[3.0,2],[3.2,9],[3.25,16],[3.42,24],[3.45,20],[3.5,14],[3.55,11],[3.65,6],[3.75,3],[3.85,1],[3.95,2],[4.0,4],[4.1,3],[4.2,6],[4.25,7]];

// ---- 105 km (ppmv) ----
const p105Light=[[0,20],[0.1,30],[0.2,40],[0.3,60],[0.4,70],[0.5,60],[0.6,80],[0.65,50],[0.7,40],[0.8,25],[0.9,20],[1.0,25],[1.1,30],[1.2,35],[1.3,55],[1.4,40],[1.5,35],[1.6,30],[1.7,20],[1.8,15],[1.9,15],[2.0,12],[2.1,25],[2.2,35],[2.24,137],[2.28,60],[2.35,90],[2.4,65],[2.5,50],[2.6,45],[2.7,40],[2.8,25],[2.9,20],[3.0,25],[3.1,40],[3.2,90],[3.3,110],[3.4,70],[3.5,60],[3.6,50],[3.65,108],[3.7,60],[3.8,35],[3.9,25],[4.0,25],[4.1,45],[4.2,120],[4.25,30]];
const p105Dark=[[0,15],[0.03,25],[0.06,8],[0.1,40],[0.13,20],[0.16,55],[0.18,30],[0.2,70],[0.22,40],[0.25,95],[0.27,50],[0.29,60],[0.3,95],[0.33,40],[0.38,30],[0.5,30],[0.62,60],[0.66,40],[0.7,35],[0.75,25],[0.8,30],[0.85,20],[0.9,35],[0.95,15],[1.0,25],[1.05,10],[1.1,40],[1.15,20],[1.2,45],[1.25,30],[1.3,55],[1.35,25],[1.4,35],[1.5,30],[1.6,20],[1.7,25],[1.8,15],[1.85,25],[1.9,10],[1.95,15],[2.0,10],[2.05,20],[2.1,45],[2.15,25],[2.2,45],[2.25,60],[2.26,115],[2.28,70],[2.32,100],[2.35,60],[2.38,113],[2.42,60],[2.45,80],[2.5,50],[2.55,75],[2.57,40],[2.59,175],[2.6,50],[2.65,60],[2.7,45],[2.75,55],[2.8,30],[2.85,20],[2.9,35],[2.95,15],[3.0,25],[3.05,40],[3.1,20],[3.15,93],[3.18,40],[3.22,60],[3.25,40],[3.3,150],[3.32,60],[3.35,40],[3.4,80],[3.45,55],[3.5,65],[3.55,50],[3.6,60],[3.65,98],[3.68,70],[3.7,104],[3.72,50],[3.75,40],[3.8,30],[3.85,25],[3.9,15],[3.95,10],[4.0,15],[4.05,30],[4.1,55],[4.15,45],[4.2,115],[4.22,60],[4.25,50]];
const p105DarkOutlier=[[0.29,228.6]];
const p105Purple=[[0,30],[0.05,20],[0.1,15],[0.2,35],[0.25,75],[0.28,113],[0.3,99],[0.35,10],[0.4,93],[0.47,124],[0.55,126],[0.6,65],[0.67,88],[0.75,65],[0.8,25],[0.9,30],[1.0,15],[1.05,5],[1.1,20],[1.2,30],[1.3,66],[1.35,66],[1.45,40],[1.55,65],[1.6,45],[1.7,40],[1.8,20],[1.9,15],[2.0,5],[2.15,10],[2.25,30],[2.28,101],[2.35,60],[2.4,60],[2.45,80],[2.5,80],[2.55,25],[2.6,173],[2.65,90],[2.7,165],[2.75,77],[2.8,40],[2.9,20],[3.0,45],[3.1,20],[3.2,15],[3.3,55],[3.35,85],[3.42,81],[3.45,130],[3.5,149],[3.55,83],[3.6,125],[3.7,50],[3.75,140],[3.82,35],[3.9,40],[3.95,42],[4.0,45],[4.1,25],[4.15,10],[4.2,102],[4.23,70],[4.25,45]];
const p105Red=[[0,42],[0.1,10],[0.2,8],[0.25,65],[0.28,80],[0.3,92],[0.38,55],[0.42,85],[0.47,85],[0.55,103],[0.62,65],[0.7,50],[0.78,35],[0.85,10],[1.0,48],[1.1,10],[1.2,50],[1.3,20],[1.45,50],[1.55,40],[1.65,40],[1.72,15],[1.8,5],[1.9,20],[2.0,3],[2.15,10],[2.3,65],[2.38,85],[2.42,60],[2.5,110],[2.55,20],[2.6,65],[2.65,138],[2.7,50],[2.8,30],[2.9,40],[3.0,38],[3.1,10],[3.2,15],[3.3,68],[3.38,128],[3.42,28],[3.5,75],[3.55,70],[3.65,25],[3.7,20],[3.78,98],[3.85,18],[3.95,15],[4.05,10],[4.15,40],[4.22,139],[4.25,60]];
const p105Yellow=[[0.05,35],[0.1,30],[0.15,15],[0.2,45],[0.25,30],[0.3,122],[0.38,77],[0.42,80],[0.48,52],[0.55,118],[0.6,72],[0.65,20],[0.7,10],[0.75,55],[0.8,25],[0.9,15],[1.0,30],[1.05,10],[1.15,5],[1.25,45],[1.35,10],[1.45,30],[1.5,75],[1.55,70],[1.6,55],[1.68,72],[1.75,5],[1.85,30],[1.95,10],[2.0,10],[2.1,25],[2.2,10],[2.3,55],[2.35,60],[2.4,103],[2.45,15],[2.5,5],[2.55,90],[2.65,30],[2.7,12],[2.8,22],[2.9,15],[3.0,35],[3.1,25],[3.2,10],[3.3,40],[3.35,50],[3.45,105],[3.5,40],[3.6,55],[3.7,87],[3.78,35],[3.9,30],[4.0,30],[4.1,35],[4.2,50],[4.25,35]];
const p105Blue=[[0,35],[0.05,18],[0.1,20],[0.15,25],[0.2,38],[0.3,87],[0.35,67],[0.42,40],[0.48,62],[0.52,78],[0.6,55],[0.68,45],[0.75,22],[0.85,10],[0.95,5],[1.05,15],[1.15,25],[1.2,15],[1.3,20],[1.4,40],[1.5,55],[1.6,22],[1.68,48],[1.75,20],[1.85,15],[1.95,5],[2.05,15],[2.15,20],[2.25,40],[2.35,142],[2.45,73],[2.55,40],[2.6,30],[2.65,77],[2.75,25],[2.85,15],[2.95,10],[3.05,20],[3.15,10],[3.25,40],[3.3,75],[3.38,30],[3.45,122],[3.5,103],[3.55,57],[3.6,50],[3.7,40],[3.75,30],[3.85,35],[3.95,22],[4.05,25],[4.15,20],[4.2,80],[4.25,27]];

// ---- layout / rendering ----
const NS="http://www.w3.org/2000/svg";
const svg=document.getElementById('fig');
const COLS=[102,767.5,1433], ROWS=[38.7,528.3,1017.3], W=545, H=402.5, TSPAN=4.25;
const COL={light:'#b4b4b4',dark:'#4f4f4f',purple:'#5500cc',red:'#ff0000',yellow:'#ffc300',blue:'#0a8cff'};
const panels=[
 {alt:'25.0',c:0,r:0,ymin:-0.06,ymax:6.12,step:1,nt:6,minor:10,fmt:v=>(v/1000).toFixed(3),light:p25Light,dark:p25Dark,purple:[],red:[],yellow:p25Yellow,blue:p25Blue},
 {alt:'35.0',c:1,r:0,ymin:-0.15,ymax:15.16,step:2,nt:7,minor:4,fmt:v=>(v/1000).toFixed(3),light:p35Light,dark:p35Dark,purple:[],red:[],yellow:p35Yellow,blue:p35Blue},
 {alt:'46.0',c:2,r:0,ymin:-0.03,ymax:18.45,step:5,nt:3,minor:5,fmt:v=>(v/1000).toFixed(3),light:p46Light,dark:p46Dark,purple:p46Purple,red:p46Red,yellow:p46Yellow,blue:p46Blue},
 {alt:'56.0',c:0,r:1,ymin:-0.4,ymax:25.45,step:5,nt:5,minor:5,fmt:v=>(v/1000).toFixed(3),light:p56Light,dark:p56Dark,purple:p56Purple,red:p56Red,yellow:p56Yellow,blue:p56Blue},
 {alt:'64.0',c:1,r:1,ymin:-1.9,ymax:124,step:20,nt:6,minor:4,fmt:v=>(v/1000).toFixed(2),light:p64Light,dark:p64Dark,purple:p64Purple,red:p64Red,yellow:p64Yellow,blue:p64Blue},
 {alt:'75.0',c:2,r:1,ymin:-2.3,ymax:152.6,step:50,nt:3,minor:5,fmt:v=>(v/100).toFixed(1),light:p75Light,dark:p75Dark,purple:p75Purple,red:p75Red,yellow:p75Yellow,blue:p75Blue},
 {alt:'85.0',c:0,r:2,ymin:-0.25,ymax:14.73,step:2,nt:7,minor:4,fmt:v=>String(v),light:p85Light,dark:p85Dark,purple:p85Purple,red:p85Red,yellow:p85Yellow,blue:p85Blue},
 {alt:'95.0',c:1,r:2,ymin:-1.2,ymax:70.5,step:10,nt:7,minor:10,fmt:v=>String(v),light:p95Light,dark:p95Dark,purple:p95Purple,red:p95Red,yellow:p95Yellow,blue:p95Blue},
 {alt:'105.0',c:2,r:2,ymin:-5.4,ymax:275.6,step:50,nt:5,minor:5,fmt:v=>String(v),light:p105Light,dark:p105Dark,purple:p105Purple,red:p105Red,yellow:p105Yellow,blue:p105Blue,outlier:p105DarkOutlier}
];
function mk(tag,attrs,parent){const e=document.createElementNS(NS,tag);for(const k in attrs)e.setAttribute(k,attrs[k]);(parent||svg).appendChild(e);return e;}
function diamond(x,y,hw,hh){return `M${x.toFixed(1)} ${(y-hh).toFixed(1)}L${(x+hw).toFixed(1)} ${y.toFixed(1)}L${x.toFixed(1)} ${(y+hh).toFixed(1)}L${(x-hw).toFixed(1)} ${y.toFixed(1)}Z`;}

panels.forEach(p=>{
  const L=COLS[p.c], T=ROWS[p.r], B=T+H, R=L+W;
  const xs=t=>L+t/TSPAN*W;
  const ys=v=>T+(p.ymax-v)/(p.ymax-p.ymin)*H;
  const g=mk('g',{});
  
  
  const title=mk('text',{x:L+W/2,y:T-7,'text-anchor':'middle','font-size':'19',fill:'#333'},g);
  title.textContent=p.alt+' km\u00a0\u00a0 80\u221270S deg';
  
  
  const yl=mk('text',{x:0,y:0,'text-anchor':'middle','font-size':'16',fill:'#333',transform:`translate(${L-76},${T+H/2}) rotate(-90)`},g);
  yl.textContent='NO vmr (ppmv)';
  
  
  let d=`M${L} ${T}H${R}V${B}H${L}Z`;
  for(let q=0;q<=17;q++){const x=xs(q*0.25);const len=(q%4===0)?8:4;d+=`M${x} ${B}v${len}M${x} ${T}v${-len}`;}
  const span=p.step/p.minor;
  for(let k=Math.ceil(p.ymin/span);k*span<=p.ymax+1e-9;k++){
    const v=k*span;const y=ys(v);const major=(k%p.minor===0);const len=major?10:5;
    d+=`M${L} ${y}h${-len}M${R} ${y}h${len}`;
  }
  const frame=mk('path',{d:d,fill:'none',stroke:'#444','stroke-width':'1.6'},g);
  
  
  for(let i=0;i<=p.nt;i++){
    const v=i*p.step;
    const tl=mk('text',{x:L-15,y:ys(v)+6,'text-anchor':'end','font-size':'17',fill:'#333'},g);
    tl.textContent=p.fmt(v);
    
    
  }
  yearLabels.forEach((yr,i)=>{
    const x=xs(i);
    const a=mk('text',{x:x,y:B+31,'text-anchor':'middle','font-size':'17',fill:'#333'},g);
    a.textContent='1 Jan';
    
    
    const b=mk('text',{x:x,y:B+46,'text-anchor':'middle','font-size':'17',fill:'#333'},g);
    b.textContent=yr;
    
    
  });
  ['light','dark'].forEach(key=>{
    const arr=p[key];let ld='';let pen=false;
    arr.forEach(pt=>{if(!pt){pen=false;return;}ld+=(pen?'L':'M')+xs(pt[0]).toFixed(1)+' '+ys(pt[1]).toFixed(1);pen=true;});
    const line=mk('path',{d:ld,fill:'none',stroke:COL[key],'stroke-width':'2.8','stroke-linejoin':'round'},g);
    
    
    arr.forEach(pt=>{if(!pt)return;
      const m=mk('path',{d:diamond(xs(pt[0]),ys(pt[1]),3.6,4.6),fill:COL[key]},g);
      
      
    });
  });
  if(p.outlier){p.outlier.forEach(pt=>{
    const m=mk('path',{d:diamond(xs(pt[0]),ys(pt[1]),3.8,4.8),fill:COL.dark},g);
    
    
  });}
  ['purple','red','yellow','blue'].forEach(key=>{
    p[key].forEach(pt=>{
      const m=mk('path',{d:diamond(xs(pt[0]),ys(pt[1]),6.2,7.6),fill:COL[key]},g);
      
      
    });
  });
});
</script>
</body></html>
